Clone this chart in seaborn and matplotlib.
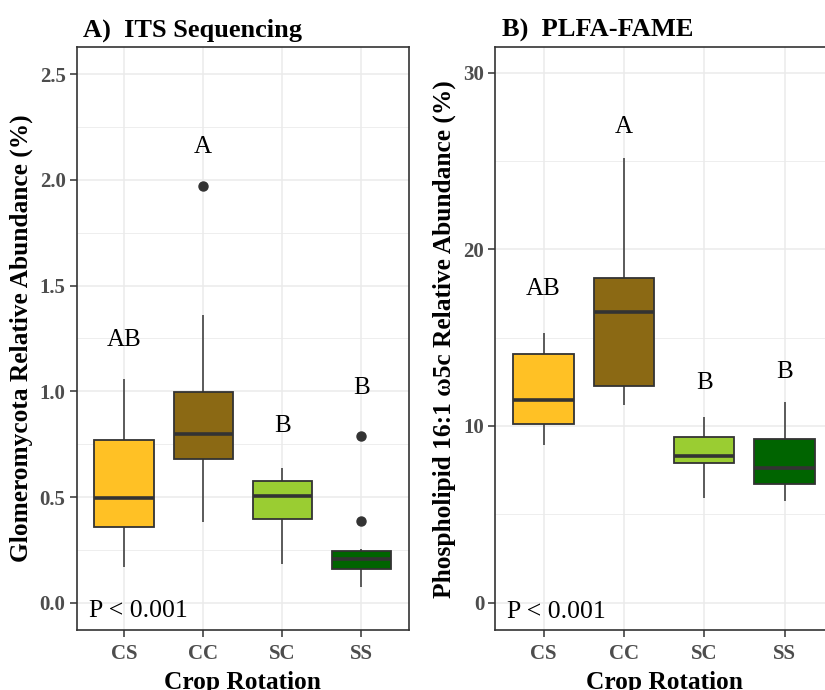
import matplotlib
matplotlib.use("Agg")
import matplotlib.pyplot as plt
from matplotlib.ticker import MultipleLocator, FormatStrFormatter
import seaborn as sns
import pandas as pd

sns.set_theme(style="white")
plt.rcParams['font.family'] = ['Liberation Serif', 'DejaVu Serif']

rotations = ["CS", "CC", "SC", "SS"]
colors = ["#FFC125", "#8B6914", "#9ACD32", "#006400"]

# Panel A: Glomeromycota relative abundance (%) per plot
its_cs = [0.167, 0.30, 0.358, 0.43, 0.495, 0.62, 0.770, 0.90, 1.057]
its_cc = [0.380, 0.55, 0.678, 0.74, 0.798, 0.90, 0.995, 1.361, 1.973]
its_sc = [0.183, 0.33, 0.396, 0.45, 0.503, 0.54, 0.577, 0.61, 0.637]
its_ss = [0.076, 0.12, 0.14, 0.159, 0.18, 0.195, 0.207, 0.22, 0.235, 0.245, 0.254, 0.385, 0.787]
its_letters = ["AB", "A", "B", "B"]
its_letter_y = [1.243, 2.155, 0.837, 1.017]

# Panel B: PLFA 16:1 w5c relative abundance (%)
plfa_cs = [8.91, 9.6, 10.10, 10.8, 11.46, 12.9, 14.08, 14.7, 15.28]
plfa_cc = [11.19, 11.8, 12.28, 14.5, 16.47, 17.5, 18.40, 21.5, 25.15]
plfa_sc = [5.93, 7.2, 7.91, 8.1, 8.30, 8.9, 9.36, 9.9, 10.53]
plfa_ss = [5.74, 6.3, 6.72, 7.2, 7.64, 8.5, 9.27, 10.2, 11.36]
plfa_letters = ["AB", "A", "B", "B"]
plfa_letter_y = [17.77, 26.94, 12.45, 13.04]

p_text = "P < 0.001"


def long_df(groups):
    rows = []
    for name, vals in zip(rotations, groups):
        for v in vals:
            rows.append({"rotation": name, "value": v})
    return pd.DataFrame(rows)


df_a = long_df([its_cs, its_cc, its_sc, its_ss])
df_b = long_df([plfa_cs, plfa_cc, plfa_sc, plfa_ss])

fig = plt.figure(figsize=(8.25, 6.9), dpi=100)
ax_a = fig.add_axes([76.7 / 825, 60 / 690, 332 / 825, 582.7 / 690])
ax_b = fig.add_axes([495.3 / 825, 60 / 690, 337.4 / 825, 582.7 / 690])

edge = "#333333"
tick_grey = "#4D4D4D"


def draw(ax, df, letters, letter_y, ylim, major, minor, ylabel, title, p_y, fmt):
    ax.set_axisbelow(True)
    sns.boxplot(data=df, x="rotation", y="value", hue="rotation", order=rotations,
                hue_order=rotations, palette=colors, saturation=1, width=0.75,
                linecolor=edge, linewidth=1.3, showcaps=False, whis=1.5,
                medianprops=dict(linewidth=2.6, color=edge),
                whiskerprops=dict(linewidth=1.1, color=edge),
                flierprops=dict(marker="o", markerfacecolor=edge, markeredgecolor=edge,
                                markersize=6.5),
                legend=False, ax=ax, zorder=3)
    ax.set_xlim(-0.6, 3.6)
    ax.set_ylim(*ylim)
    ax.yaxis.set_major_locator(MultipleLocator(major))
    ax.yaxis.set_minor_locator(MultipleLocator(minor))
    ax.yaxis.set_major_formatter(FormatStrFormatter(fmt))
    ax.grid(which="major", color="#EBEBEB", linewidth=1.1, zorder=0)
    ax.grid(which="minor", axis="y", color="#EBEBEB", linewidth=0.6, zorder=0)
    for s in ax.spines.values():
        s.set_visible(True)
        s.set_color(edge)
        s.set_linewidth(1.2)
    ax.tick_params(which="major", length=5, width=1.1, color=edge,
                   labelsize=15, labelcolor=tick_grey, bottom=True, left=True)
    ax.tick_params(axis="x", pad=5)
    ax.tick_params(axis="y", pad=3)
    ax.tick_params(which="minor", length=0)
    for lab in ax.get_xticklabels() + ax.get_yticklabels():
        lab.set_fontweight("bold")
    for i, (t, y) in enumerate(zip(letters, letter_y)):
        ax.text(i, y, t, ha="center", va="center", fontsize=18, color="black")
    ax.text(-0.45, p_y, p_text, ha="left", va="center", fontsize=18.5, color="black")
    ax.set_xlabel("Crop Rotation", fontsize=18.3, fontweight="bold", color="black", labelpad=5)
    ax.set_ylabel(ylabel, fontsize=18.3, fontweight="bold", color="black", labelpad=5)
    ax.set_title(title, loc="left", fontsize=19, fontweight="bold", color="black", pad=8,
                 x=0.02)


draw(ax_a, df_a, its_letters, its_letter_y, (-0.129, 2.627), 0.5, 0.25,
     "Glomeromycota Relative Abundance (%)", "A)  ITS Sequencing", -0.04, "%.1f")
draw(ax_b, df_b, plfa_letters, plfa_letter_y, (-1.55, 31.44), 10, 5,
     "Phospholipid 16:1 \u03c95c Relative Abundance (%)", "B)  PLFA-FAME", -0.51, "%d")

fig.savefig("out.png", dpi=100)
